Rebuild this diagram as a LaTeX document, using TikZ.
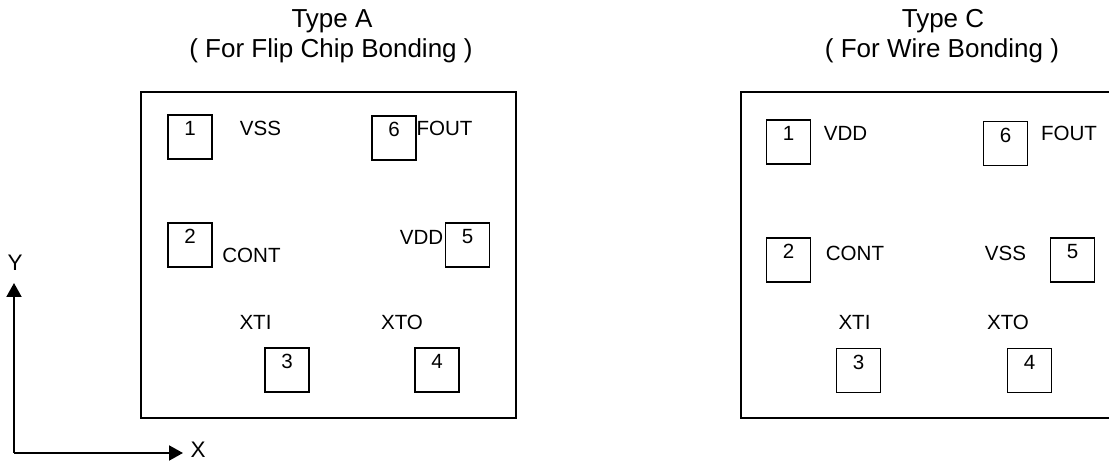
\documentclass[tikz,border=0pt]{standalone}
\usepackage{fontspec}
\setmainfont{Liberation Sans}
\usetikzlibrary{arrows.meta,positioning}

\begin{document}
\begin{tikzpicture}[
		x=0.02cm, y=-0.02cm,
		chip/.style={draw, line width=1.1pt},
		pad/.style={draw, line width=1.1pt, minimum size=0.88cm, inner sep=0pt},
		num/.style={font=\fontsize{11.7}{14}\selectfont, inner sep=0pt},
		pin/.style={font=\fontsize{11.7}{14}\selectfont, inner sep=0pt},
		title/.style={font=\fontsize{14.8}{17}\selectfont, inner sep=0pt, anchor=base},
		axis/.style={line width=1.1pt, -{Triangle[length=0.28cm, width=0.3cm]}},
		]
		\useasboundingbox (0,0) rectangle (1109,462);
	
		% Axes
		\coordinate (O) at (14,453);
		\coordinate (Yend) at (14,283);
		\coordinate (Xend) at (183,453);
		\draw[axis] (O) -- (Yend);
		\draw[axis] (O) -- (Xend);
		\node[font=\fontsize{12.8}{15}\selectfont, inner sep=0pt] (Y) at (15,263) {Y};
		\node[font=\fontsize{12.8}{15}\selectfont, inner sep=0pt] (X) at (198,450) {X};
	
		% Type A
		\node[title] (TA1) at (332,28) {Type A};
		\node[title] (TA2) at (331,58) {( For Flip Chip Bonding )};
		\draw[chip] (141,92) rectangle (516,418);
	
		\node[pad] (A1) at (190,137) {};
		\node[pad] (A2) at (190,245) {};
		\node[pad] (A3) at (287,370) {};
		\node[pad] (A4) at (437,370) {};
		\node[pad] (A5) at (467.5,245) {};
		\node[pad] (A6) at (394,138) {};
		\foreach \i in {1,...,6}
			\node[num, below=0.14cm of A\i.north] (nA\i) {\i};
	
		\node[pin] (VSSa) at (260.5,128) {VSS};
		\node[pin] (FOUTa) at (444.5,128) {FOUT};
		\node[pin] (CONTa) at (251.5,255) {CONT};
		\node[pin] (VDDa) at (421.5,237) {VDD};
		\node[pin] (XTIa) at (255.5,322) {XTI};
		\node[pin] (XTOa) at (402,322) {XTO};
	
		% Type C
		\node[title] (TC1) at (943,28) {Type C};
		\node[title] (TC2) at (942,58) {( For Wire Bonding )};
		\draw[chip] (1109,92) -- (741,92) -- (741,418) -- (1109,418);
	
		\node[pad] (C1) at (788.5,142) {};
		\node[pad] (C2) at (788.5,260) {};
		\node[pad] (C3) at (858.5,370.5) {};
		\node[pad] (C4) at (1029.5,370.5) {};
		\node[pad] (C5) at (1072.5,260) {};
		\node[pad] (C6) at (1005.5,143.5) {};
		\foreach \i in {1,...,6}
			\node[num, below=0.14cm of C\i.north] (nC\i) {\i};
	
		\node[pin] (VDDc) at (845.5,133) {VDD};
		\node[pin] (FOUTc) at (1069,133) {FOUT};
		\node[pin] (CONTc) at (855,253) {CONT};
		\node[pin] (VSSc) at (1005.5,253) {VSS};
		\node[pin] (XTIc) at (854.5,322) {XTI};
		\node[pin] (XTOc) at (1008,322) {XTO};
	\end{tikzpicture}
\end{document}
